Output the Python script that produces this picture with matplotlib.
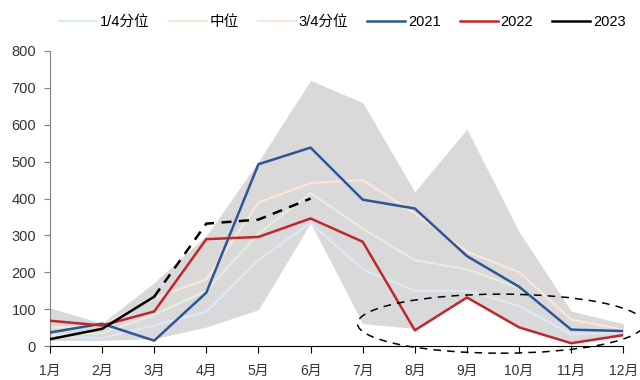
import matplotlib.pyplot as plt
from matplotlib.patches import Ellipse

plt.rcParams['font.family'] = ['Liberation Sans', 'Noto Sans CJK SC', 'DejaVu Sans']

months = ['1月', '2月', '3月', '4月', '5月', '6月', '7月', '8月', '9月', '10月', '11月', '12月']
band_max = [104, 62, 172, 300, 500, 720, 660, 418, 588, 310, 95, 61]
band_min = [16, 16, 20, 52, 99, 334, 61, 48, 130, 51, 8, 28]
q25 = [25, 22, 56, 93, 233, 334, 208, 150, 150, 109, 32, 38]
q50 = [30, 35, 85, 150, 305, 415, 319, 233, 208, 158, 48, 40]
q75 = [50, 56, 130, 181, 389, 442, 450, 360, 256, 201, 72, 45]
y2021 = [37, 61, 15, 145, 493, 538, 397, 373, 244, 161, 45, 41]
y2022 = [69, 56, 94, 290, 296, 346, 283, 43, 132, 51, 8, 30]
y2023 = [19, 47, 134, 332, 343, 400]
n_actual = 3  # 2023 solid through 3月, dashed forecast afterwards

x = list(range(len(months)))

fig = plt.figure(figsize=(6.4, 3.8), dpi=100)
ax = fig.add_axes([0.078, 0.089, 0.896, 0.777])

ax.fill_between(x, band_min, band_max, color='#d9d9d9', lw=0, zorder=1)
ax.plot(x, q25, color='#dbe8f6', lw=1.6, label='1/4分位', zorder=2)
ax.plot(x, q50, color='#e2efda', lw=1.6, label='中位', zorder=2)
ax.plot(x, q75, color='#fce4d6', lw=1.6, label='3/4分位', zorder=2)
ax.plot(x, y2021, color='#2f5597', lw=1.8, label='2021', zorder=3)
ax.plot(x, y2022, color='#c0272d', lw=1.8, label='2022', zorder=3)
ax.plot(x[:n_actual], y2023[:n_actual], color='black', lw=1.8, label='2023', zorder=4)
ax.plot(x[n_actual - 1:len(y2023)], y2023[n_actual - 1:], color='black', lw=1.8,
        ls=(0, (4, 3)), zorder=4)

# dashed circle around the late-year lows
ax.add_patch(Ellipse((8.65, 61), width=5.5, height=160, fill=False, ec='black',
                     lw=1.1, ls=(0, (5, 4)), clip_on=False, zorder=5))

ax.set_xlim(0, 11)
ax.set_ylim(0, 800)
ax.set_yticks(range(0, 801, 100))
ax.set_xticks(x)
ax.set_xticklabels(months)
ax.tick_params(axis='y', labelsize=10.5, colors='#333333', length=4, pad=6)
ax.tick_params(axis='y', color='#808080')
ax.tick_params(axis='x', labelsize=10, labelcolor='#333333', length=5, color='black', pad=8)
for side in ['top', 'right']:
    ax.spines[side].set_visible(False)
ax.spines['left'].set_color('#808080')
ax.spines['bottom'].set_color('black')

fig.legend(loc='upper center', bbox_to_anchor=(0.535, 0.995), ncol=6, frameon=False,
           fontsize=10.5, handlelength=2.6, handletextpad=0.2, columnspacing=1.3)

fig.savefig('out.png', dpi=100)
